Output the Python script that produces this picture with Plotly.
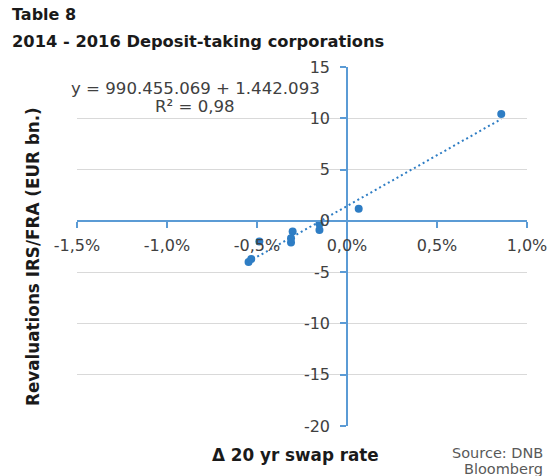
import plotly.graph_objects as go

# ---- data (x in percent points, y in EUR bn) ----
swap_change_pct = [-0.547, -0.532, -0.487, -0.311, -0.311, -0.302, -0.153, -0.153, 0.065, 0.857]
revaluation_bn = [-4.02, -3.73, -2.02, -2.11, -1.69, -1.04, -0.88, -0.30, 1.17, 10.43]
trend_slope = 990.455069      # per unit of rate (fraction)
trend_intercept = 1.442093
x_tick_vals = [-1.5, -1.0, -0.5, 0.0, 0.5, 1.0]
x_tick_text = ["-1,5%", "-1,0%", "-0,5%", "0,0%", "0,5%", "1,0%"]
y_tick_vals = [-20, -15, -10, -5, 0, 5, 10, 15]
y_tick_text = ["-20", "-15", "-10", "-5", "0", "5", "10", "15"]

W_FIG, H_FIG = 552, 476
L, R, T, B = 77, 25, 67, 50
PW, PH = W_FIG - L - R, H_FIG - T - B
XR = [-1.5, 1.0]
YR = [-20, 15]

def px_x(p):
    return (p - L) / PW

def px_y(p):
    return (T + PH - p) / PH

axis_col = "#5b9bd5"
pt_col = "#2e7dc4"
txt_col = "#404040"
FONT = "DejaVu Sans, Verdana, sans-serif"

fig = go.Figure()

xmin, xmax = min(swap_change_pct), max(swap_change_pct)
fig.add_trace(go.Scatter(
    x=[xmin, xmax],
    y=[trend_intercept + trend_slope * xmin / 100, trend_intercept + trend_slope * xmax / 100],
    mode="lines", line=dict(color=pt_col, width=2, dash="2px,3px"),
    hoverinfo="skip", showlegend=False))

fig.add_trace(go.Scatter(
    x=swap_change_pct, y=revaluation_bn, mode="markers",
    marker=dict(color=pt_col, size=8), showlegend=False))

x_pos = (0 - XR[0]) / (XR[1] - XR[0])
y_pos = (0 - YR[0]) / (YR[1] - YR[0])

fig.update_layout(
    width=W_FIG, height=H_FIG, autosize=False,
    margin=dict(l=L, r=R, t=T, b=B, autoexpand=False),
    paper_bgcolor="white", plot_bgcolor="white",
    font=dict(family=FONT, color=txt_col, size=16),
    xaxis=dict(range=XR, domain=[0, 1], anchor="free", position=y_pos,
               automargin=False,
               tickvals=x_tick_vals, ticktext=x_tick_text,
               showgrid=False, zeroline=False, showline=True,
               linecolor=axis_col, linewidth=1.5, ticks="outside",
               tickcolor=axis_col, ticklen=6, tickwidth=1.5,
               ticklabelstandoff=4,
               tickfont=dict(size=16, color=txt_col, family=FONT)),
    yaxis=dict(range=YR, domain=[0, 1], anchor="free", position=x_pos,
               automargin=False,
               tickvals=y_tick_vals, ticktext=y_tick_text,
               showgrid=True, gridcolor="#d9d9d9", gridwidth=1,
               zeroline=False, showline=True,
               linecolor=axis_col, linewidth=1.5, ticks="outside",
               tickcolor=axis_col, ticklen=6, tickwidth=1.5,
               ticklabelstandoff=7,
               tickfont=dict(size=16, color=txt_col, family=FONT)),
)

TITLE_COL = "#1a1a1a"
ann = []
ann.append(dict(text="<b>Table 8</b>", x=px_x(10), y=px_y(15), xref="paper", yref="paper",
                xanchor="left", yanchor="middle", showarrow=False,
                font=dict(size=16, color=TITLE_COL, family=FONT)))
ann.append(dict(text="<b>2014 - 2016 Deposit-taking corporations</b>", x=px_x(10), y=px_y(42),
                xref="paper", yref="paper", xanchor="left", yanchor="middle", showarrow=False,
                font=dict(size=16.3, color=TITLE_COL, family=FONT)))
ann.append(dict(text="y = 990.455.069 + 1.442.093", x=px_x(195), y=px_y(88),
                xref="paper", yref="paper", xanchor="center", yanchor="middle", showarrow=False,
                font=dict(size=16.6, color=txt_col, family=FONT)))
ann.append(dict(text="R² = 0,98", x=px_x(195), y=px_y(106),
                xref="paper", yref="paper", xanchor="center", yanchor="middle", showarrow=False,
                font=dict(size=16.6, color=txt_col, family=FONT)))
ann.append(dict(text="<b>Revaluations IRS/FRA (EUR bn.)</b>", x=px_x(33), y=px_y(257),
                xref="paper", yref="paper", xanchor="center", yanchor="middle", showarrow=False,
                textangle=-90, font=dict(size=16.8, color=TITLE_COL, family=FONT)))
ann.append(dict(text="<b>Δ 20 yr swap rate</b>", x=px_x(295), y=px_y(455),
                xref="paper", yref="paper", xanchor="center", yanchor="middle", showarrow=False,
                font=dict(size=16.8, color=TITLE_COL, family=FONT)))
ann.append(dict(text="Source: DNB", x=px_x(545), y=px_y(453),
                xref="paper", yref="paper", xanchor="right", yanchor="middle", showarrow=False,
                font=dict(size=14.5, color="#595959", family=FONT)))
ann.append(dict(text="Bloomberg", x=px_x(545), y=px_y(469),
                xref="paper", yref="paper", xanchor="right", yanchor="middle", showarrow=False,
                font=dict(size=14.5, color="#595959", family=FONT)))
fig.update_layout(annotations=ann)

fig.write_html("out.html")
